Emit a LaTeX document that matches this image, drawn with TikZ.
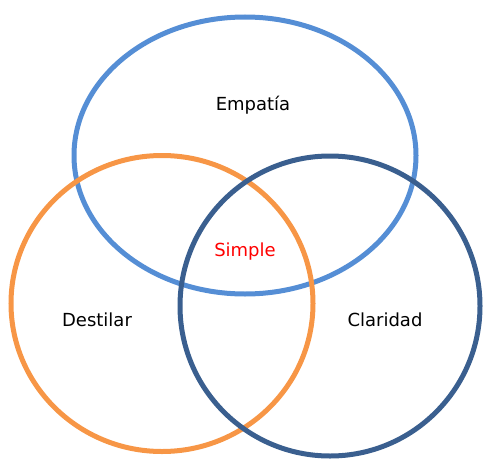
\documentclass[tikz,border=0pt]{standalone}
\usepackage{fontspec}
\setmainfont{DejaVu Sans}
\definecolor{cblue}{HTML}{558ED5}
\definecolor{corange}{HTML}{F79646}
\definecolor{cdark}{HTML}{3A5F8F}
\begin{document}
\begin{tikzpicture}[x=1pt,y=-1pt,
  ring/.style={line width=5pt},
  lbl/.style={font=\fontsize{18}{21}\selectfont, inner sep=0pt}]
\useasboundingbox (0,0) rectangle (484,460);
\draw[ring, cblue] (245,155.5) ellipse [x radius=171, y radius=138.5];
\draw[ring, corange] (162,303.5) ellipse [x radius=151, y radius=148];
\draw[ring, cdark] (330,306) ellipse [x radius=150, y radius=150];
\node[lbl] (emp) at (253,105) {Empatía};
\node[lbl, text=red] (sim) at (245,252) {Simple};
\node[lbl] (des) at (97,320) {Destilar};
\node[lbl] (cla) at (385,320) {Claridad};
\end{tikzpicture}
\end{document}
